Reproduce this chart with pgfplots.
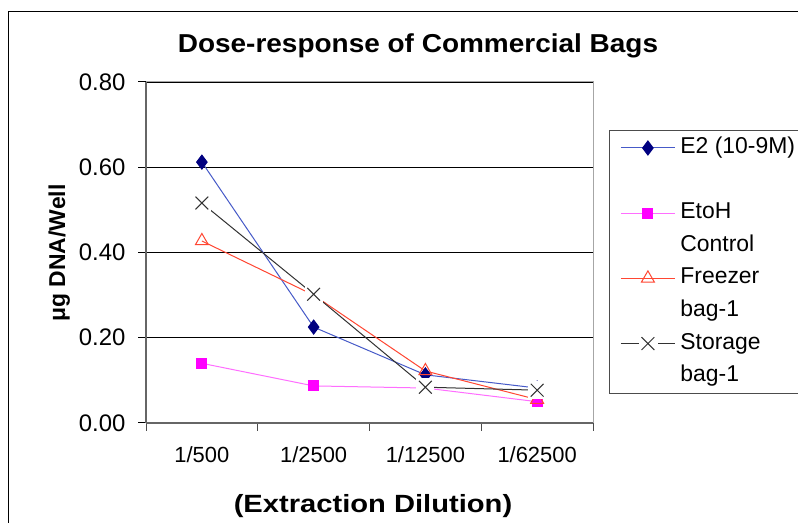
\documentclass[border=0pt]{standalone}
\usepackage{fontspec}
\setmainfont{Liberation Sans}
\usepackage{graphicx}
\usepackage{pgfplots}
\pgfplotsset{compat=1.18}
\definecolor{e2line}{RGB}{70,90,200}
\definecolor{e2mark}{RGB}{0,0,128}
\definecolor{etline}{RGB}{255,110,255}
\definecolor{etmark}{RGB}{255,0,255}
\definecolor{frline}{RGB}{255,70,50}
\definecolor{stline}{RGB}{50,50,50}
\pgfplotstableread{
x y
0 0.516
1 0.302
2 0.084
3 0.077
}\storagetab
\begin{document}
\begin{tikzpicture}[x=1bp,y=1bp]
\useasboundingbox (0,0) rectangle (798,523);
\clip (0,0) rectangle (798,523);
\fill[white] (0,0) rectangle (798,523);
\draw[black, line width=1bp] (8.5,511.5) rectangle (900,-100);
\begin{axis}[
  at={(146bp,100bp)}, anchor=south west,
  scale only axis, width=447bp, height=341bp,
  xmin=-0.5, xmax=3.5, ymin=0, ymax=0.8,
  xtick={0,1,2,3},
  xticklabels={1/500,1/2500,1/12500,1/62500},
  minor xtick={-0.5,0.5,1.5,2.5,3.5},
  ytick={0,0.2,0.4,0.6,0.8},
  /pgf/number format/assume math mode=true,
  tick align=outside,
  major tick length=8bp, minor tick length=8bp,
  major x tick style={draw=none},
  minor x tick style={draw=black!70, line width=1bp},
  major y tick style={draw=black, line width=1bp},
  xticklabel style={font=\fontsize{22}{26}\selectfont, yshift=-12bp},
  yticklabel style={font=\fontsize{24}{28}\selectfont, xshift=-9bp,
    /pgf/number format/fixed, /pgf/number format/fixed zerofill,
    /pgf/number format/precision=2},
  ymajorgrids, grid style={black, line width=0.8bp},
  axis x line*=bottom, axis y line*=left,
  axis line style={draw=black!60, line width=1.6bp},
  clip=false,
  legend style={at={(1.0358,0.859)}, anchor=north west,
    draw=black!70, line width=0.8bp, fill=white,
    inner xsep=11bp, inner ysep=6bp, row sep=9.6bp,
    nodes={font=\fontsize{23}{27}\selectfont, text height=17bp, text depth=6bp, inner ysep=0pt, inner xsep=5bp},
    cells={anchor=west}},
  legend image code/.code={\draw[mark repeat=2,mark phase=2] plot coordinates {(0bp,0bp) (27bp,0bp) (54bp,0bp)};},
]
\draw[black!35, line width=1bp] (rel axis cs:0,1) -- (rel axis cs:1,1) -- (rel axis cs:1,0);
\addplot[color=e2line, line width=1bp, mark=diamond*, mark size=7bp,
  mark options={draw=e2mark, fill=e2mark}]
  coordinates {(0,0.612) (1,0.225) (2,0.113) (3,0.082)};
\addlegendentry{E2 (10-9M)}
\addlegendimage{empty legend}
\addlegendentry{}
\addplot[color=etline, line width=1bp, mark=square*, mark size=5bp,
  mark options={draw=etmark, fill=etmark}]
  coordinates {(0,0.14) (1,0.087) (2,0.082) (3,0.050)};
\addlegendentry{EtoH}
\addlegendimage{empty legend}
\addlegendentry{Control}
\addplot[color=frline, line width=1bp, mark=triangle, mark size=7.5bp,
  mark options={draw=frline, fill=white, line width=1bp}]
  coordinates {(0,0.427) (1,0.30) (2,0.122) (3,0.055)};
\addlegendentry{Freezer}
\addlegendimage{empty legend}
\addlegendentry{bag-1}
\addplot[color=stline, line width=1bp, no marks, forget plot] table {\storagetab};
\addplot[only marks, mark=square*, mark size=8.5bp, mark options={draw=white, fill=white, line width=0pt}, forget plot] table {\storagetab};
\addplot[only marks, mark=x, mark size=9bp, mark options={draw=stline, line width=1bp}, forget plot] table {\storagetab};
\addlegendimage{legend image code/.code={
  \draw[stline, line width=1bp] (0bp,0bp) -- (54bp,0bp);
  \fill[white] (18bp,-8bp) rectangle (36bp,8bp);
  \draw[stline, line width=1bp] (20.6bp,-6.4bp) -- (33.4bp,6.4bp) (20.6bp,6.4bp) -- (33.4bp,-6.4bp);}}
\addlegendentry{Storage}
\addlegendimage{empty legend}
\addlegendentry{bag-1}
\end{axis}
\node[anchor=base] at (418,470) {\scalebox{1.08}[1]{\fontsize{26}{30}\selectfont\bfseries Dose-response of Commercial Bags}};
\node[anchor=base] at (373,10) {\scalebox{1.17}[1]{\fontsize{25}{30}\selectfont\bfseries (Extraction Dilution)}};
\node[anchor=base, rotate=90] at (65,270) {\fontsize{23}{28}\selectfont\bfseries μg DNA/Well};
\end{tikzpicture}
\end{document}
